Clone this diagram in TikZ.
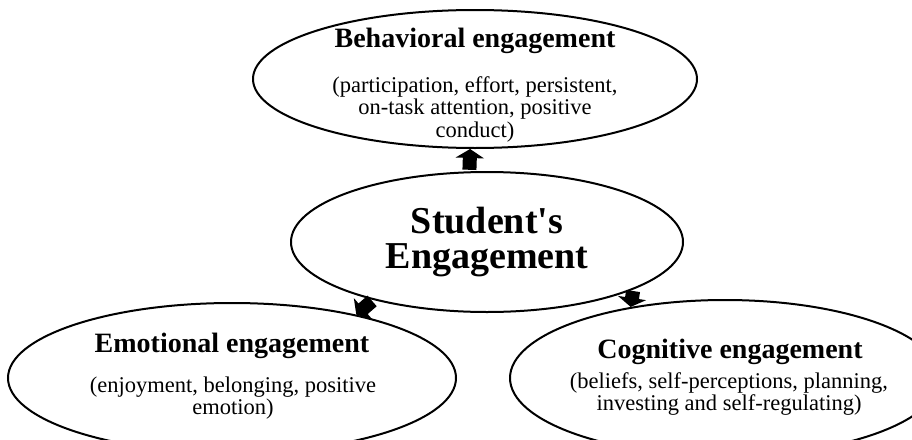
\documentclass[tikz,border=0pt]{standalone}
\usepackage{fontspec}
\setmainfont{Liberation Serif}
\usetikzlibrary{arrows.meta,shapes.geometric}

\begin{document}
\begin{tikzpicture}[
      x=1pt, y=-1pt,
      oval/.style={ellipse,draw,line width=2pt,inner sep=0pt},
      hd/.style={font=\fontsize{28}{30}\selectfont\bfseries,inner sep=0pt,anchor=base},
      txt/.style={font=\fontsize{22.5}{22.5}\selectfont,align=center,inner sep=0pt,anchor=north},
      fat/.style={line width=14pt,-{Triangle[width=28pt,length=9pt]},shorten <=1.5pt}
    ]
    \useasboundingbox (0,0) rectangle (912,439);

    % the four ovals
    \node[oval,minimum width=444pt,minimum height=138pt] (behav) at (475,79) {};
    \node[oval,minimum width=392pt,minimum height=140pt,align=center,
          font=\fontsize{38}{35}\selectfont\bfseries] (stud) at (487,242)
      {Student\textquotesingle s\\ Engagement};
    \node[oval,minimum width=448pt,minimum height=150pt] (emo) at (232,378) {};
    \node[oval,minimum width=430pt,minimum height=156pt] (cog) at (725,378) {};

    % headings and item lists
    \node[hd] (behavhd) at (475,47) {Behavioral engagement};
    \node[txt] (behavtx) at (475,76.4)
      {(participation, effort, persistent,\\ on-task attention, positive\\ conduct)};
    \node[hd] (emohd) at (232,352) {Emotional engagement};
    \node[txt] (emotx) at (233,376.4)
      {(enjoyment, belonging, positive\\ emotion)};
    \node[hd] (coghd) at (730,358) {Cognitive engagement};
    \node[txt] (cogtx) at (729,372.4)
      {(beliefs, self-perceptions, planning,\\ investing and self-regulating)};

    \draw[fat] (stud.104) -- (behav.266);
    \draw[fat] (stud.207) -- (emo.27);
    \draw[fat] (stud.342) -- (cog.143);

  \end{tikzpicture}
\end{document}
